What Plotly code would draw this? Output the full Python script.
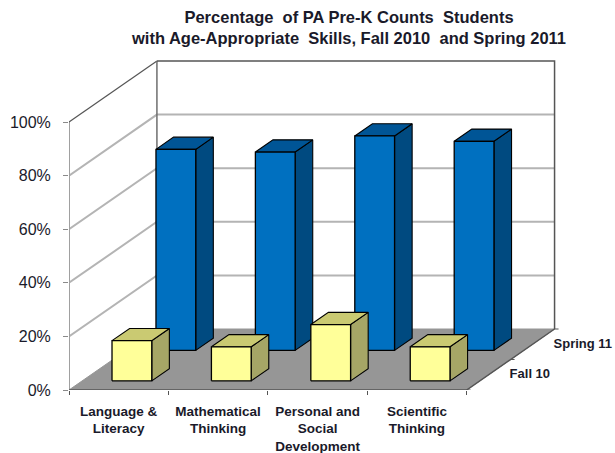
import plotly.graph_objects as go

categories = ["Language &<br>Literacy", "Mathematical<br>Thinking", "Personal and<br>Social<br>Development", "Scientific<br>Thinking"]
fall_10 = [15, 12.7, 21, 12.7]
spring_11 = [75, 74, 80, 78]
y_ticks = [0, 20, 40, 60, 80, 100]
y_tick_labels = ["0%", "20%", "40%", "60%", "80%", "100%"]
depth_labels = ["Fall 10", "Spring 11"]
title_lines = ["Percentage  of PA Pre-K Counts  Students", "with Age-Appropriate  Skills, Fall 2010  and Spring 2011"]

# Oblique projection of the 3-D chart box onto the 2-D axes
W, H = 615, 453
LEFT, BOTTOM, TOP = 68.5, 390.0, 55.0
PX_X, PX_Y = 99.5, 2.68
DX, DY = 88 / PX_X, 61 / PX_Y
BAR_W, BAR_D = 0.4, 0.2
N = len(categories)


def proj(c, v, d):
    return c + d * DX, v + d * DY


fig = go.Figure()


def poly(points, fill=None, line="#000000", width=1.0, closed=True):
    pts = [proj(*p) for p in points]
    if closed:
        pts = pts + [pts[0]]
    kw = dict(fill="toself", fillcolor=fill) if fill else {}
    fig.add_trace(go.Scatter(
        x=[p[0] for p in pts], y=[p[1] for p in pts], mode="lines",
        line=dict(color=line, width=width), showlegend=False, hoverinfo="skip",
        cliponaxis=False, **kw))


# floor
poly([(0, 0, 0), (N, 0, 0), (N, 0, 1), (0, 0, 1)], fill="#969696", line="#969696", width=1)

# gridlines on side wall and back wall
for v in y_ticks[1:-1]:
    poly([(0, v, 0), (0, v, 1), (N, v, 1)], line="#b4b4b4", width=2, closed=False)

# walls outline
poly([(0, 0, 0), (0, 100, 0)], line="#a0a0a0", width=2, closed=False)
poly([(0, 100, 0), (0, 100, 1)], line="#555555", width=1.2, closed=False)
poly([(0, 0, 1), (0, 100, 1)], line="#6e6e6e", width=1.5, closed=False)
poly([(0, 100, 1), (N, 100, 1), (N, 0, 1)], line="#555555", width=1.5, closed=False)
poly([(0, 0, 0), (N, 0, 0), (N, 0, 1)], line="#555555", width=1.5, closed=False)


def bar(c, v, d0, front, side, top):
    x0, x1 = c + 0.5 - BAR_W / 2, c + 0.5 + BAR_W / 2
    d1 = d0 + BAR_D
    poly([(x1, 0, d0), (x1, 0, d1), (x1, v, d1), (x1, v, d0)], fill=side, width=1.1)
    poly([(x0, v, d0), (x1, v, d0), (x1, v, d1), (x0, v, d1)], fill=top, width=1.1)
    poly([(x0, 0, d0), (x1, 0, d0), (x1, v, d0), (x0, v, d0)], fill=front, width=1.3)


for i, v in enumerate(spring_11):
    bar(i, v, 0.65, "#0070c0", "#004a80", "#005596")
for i, v in enumerate(fall_10):
    bar(i, v, 0.15, "#ffff99", "#a6a666", "#caca72")

# depth axis ticks and labels
for d in (0, 0.5, 1):
    cx, cy = proj(N, 0, d)
    fig.add_trace(go.Scatter(x=[cx, cx + 4 / PX_X], y=[cy, cy], mode="lines",
                             line=dict(color="#555555", width=1), showlegend=False,
                             hoverinfo="skip", cliponaxis=False))
for d, lab in zip((0.25, 0.75), depth_labels):
    cx, cy = proj(N, 0, d)
    fig.add_trace(go.Scatter(x=[cx + 21 / PX_X], y=[cy], mode="text", text=["<b>" + lab + "</b>"],
                             textposition="middle right",
                             textfont=dict(family="Liberation Sans", size=13, color="#1a1a2a"),
                             showlegend=False, hoverinfo="skip", cliponaxis=False))

fig.update_layout(
    width=W, height=H, autosize=False,
    paper_bgcolor="white", plot_bgcolor="rgba(0,0,0,0)",
    margin=dict(l=LEFT, r=0, t=TOP, b=H - BOTTOM, pad=0),
    font=dict(family="Liberation Sans", color="#1a1a2a"),
    title=dict(text="<b>" + "<br>".join(title_lines) + "</b>", x=349 / W, xanchor="center",
               y=1 - 23 / H, yanchor="top", font=dict(size=16.5, color="#1a1a2a")),
    xaxis=dict(range=[0, (W - LEFT) / PX_X], showgrid=False, zeroline=False, showline=False,
               automargin=False,
               tickmode="array", tickvals=[i + 0.5 for i in range(N)],
               ticktext=["<b>" + c + "</b>" for c in categories],
               ticks="", tickangle=0, tickfont=dict(size=13.5, family="Liberation Sans"),
               ticklabelstandoff=11,
               minor=dict(tickmode="array", tickvals=list(range(N + 1)), ticks="outside",
                          ticklen=4, tickcolor="#555555", tickwidth=1, showgrid=False)),
    yaxis=dict(range=[0, (BOTTOM - TOP) / PX_Y], showgrid=False, zeroline=False, showline=False,
               automargin=False,
               tickmode="array", tickvals=y_ticks, ticktext=y_tick_labels,
               ticks="outside", ticklen=5, tickcolor="#8a8a8a", tickwidth=1,
               tickfont=dict(size=16, family="Liberation Sans"), ticklabelstandoff=9),
)

fig.write_html("out.html", post_script="document.body.style.margin='0';",
               config={"displayModeBar": False})
